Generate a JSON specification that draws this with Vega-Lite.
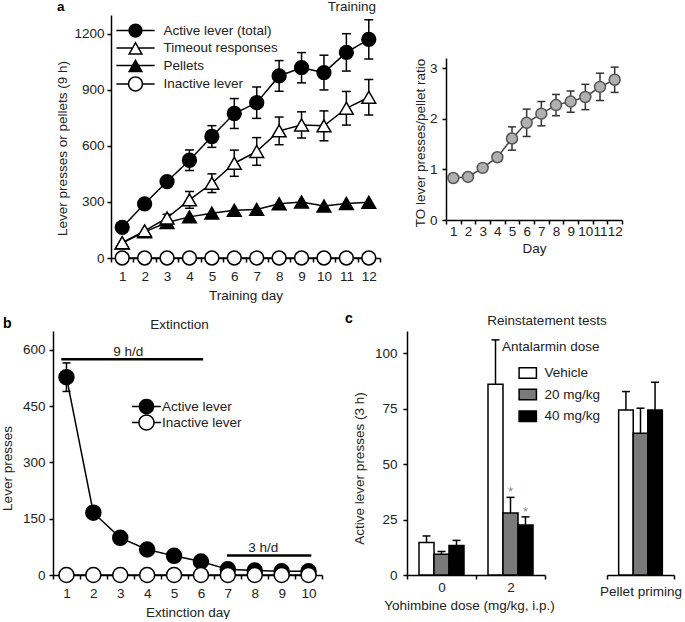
{
"$schema": "https://vega.github.io/schema/vega-lite/v6.json",
"background": "white",
"padding": {"top": -1, "left": 0, "right": 0, "bottom": 0},
"config": {
  "font": "Liberation Sans",
  "view": {"stroke": null},
  "axis": {"grid": false, "domain": true, "labelFontSize": 13.5, "titleFontSize": 13.5, "titleFontWeight": "normal", "labelColor": "#222", "titleColor": "#222", "domainColor": "#000", "tickColor": "#000", "domainWidth": 1.5, "tickWidth": 1.5, "tickSize": 4},
  "legend": {"labelFontSize": 13.5, "titleFontSize": 13.5, "titleFontWeight": "normal", "labelColor": "#222", "titleColor": "#222", "padding": 0},
  "title": {"fontSize": 13.5, "fontWeight": "normal", "color": "#222", "frame": "group", "baseline": "alphabetic"}
},
"datasets": {
  "trainA": [
    {"day": 1, "series": "Pellets", "mean": 80, "sem": 0},
    {"day": 2, "series": "Pellets", "mean": 140, "sem": 0},
    {"day": 3, "series": "Pellets", "mean": 190, "sem": 0},
    {"day": 4, "series": "Pellets", "mean": 220, "sem": 0},
    {"day": 5, "series": "Pellets", "mean": 240, "sem": 0},
    {"day": 6, "series": "Pellets", "mean": 255, "sem": 0},
    {"day": 7, "series": "Pellets", "mean": 260, "sem": 0},
    {"day": 8, "series": "Pellets", "mean": 290, "sem": 0},
    {"day": 9, "series": "Pellets", "mean": 300, "sem": 0},
    {"day": 10, "series": "Pellets", "mean": 278, "sem": 0},
    {"day": 11, "series": "Pellets", "mean": 292, "sem": 0},
    {"day": 12, "series": "Pellets", "mean": 298, "sem": 0},
    {"day": 1, "series": "Timeout responses", "mean": 82, "sem": 0},
    {"day": 2, "series": "Timeout responses", "mean": 145, "sem": 0},
    {"day": 3, "series": "Timeout responses", "mean": 214, "sem": 20},
    {"day": 4, "series": "Timeout responses", "mean": 311, "sem": 45},
    {"day": 5, "series": "Timeout responses", "mean": 400, "sem": 50},
    {"day": 6, "series": "Timeout responses", "mean": 507, "sem": 70},
    {"day": 7, "series": "Timeout responses", "mean": 570, "sem": 74},
    {"day": 8, "series": "Timeout responses", "mean": 680, "sem": 74},
    {"day": 9, "series": "Timeout responses", "mean": 712, "sem": 70},
    {"day": 10, "series": "Timeout responses", "mean": 707, "sem": 80},
    {"day": 11, "series": "Timeout responses", "mean": 801, "sem": 90},
    {"day": 12, "series": "Timeout responses", "mean": 860, "sem": 95},
    {"day": 1, "series": "Active lever (total)", "mean": 164, "sem": 20},
    {"day": 2, "series": "Active lever (total)", "mean": 290, "sem": 15},
    {"day": 3, "series": "Active lever (total)", "mean": 409, "sem": 22},
    {"day": 4, "series": "Active lever (total)", "mean": 523, "sem": 55},
    {"day": 5, "series": "Active lever (total)", "mean": 650, "sem": 58},
    {"day": 6, "series": "Active lever (total)", "mean": 773, "sem": 80},
    {"day": 7, "series": "Active lever (total)", "mean": 831, "sem": 84},
    {"day": 8, "series": "Active lever (total)", "mean": 974, "sem": 82},
    {"day": 9, "series": "Active lever (total)", "mean": 1018, "sem": 81},
    {"day": 10, "series": "Active lever (total)", "mean": 992, "sem": 93},
    {"day": 11, "series": "Active lever (total)", "mean": 1100, "sem": 100},
    {"day": 12, "series": "Active lever (total)", "mean": 1170, "sem": 105},
    {"day": 1, "series": "Inactive lever", "mean": 0, "sem": 0},
    {"day": 2, "series": "Inactive lever", "mean": 0, "sem": 0},
    {"day": 3, "series": "Inactive lever", "mean": 0, "sem": 0},
    {"day": 4, "series": "Inactive lever", "mean": 0, "sem": 0},
    {"day": 5, "series": "Inactive lever", "mean": 0, "sem": 0},
    {"day": 6, "series": "Inactive lever", "mean": 0, "sem": 0},
    {"day": 7, "series": "Inactive lever", "mean": 0, "sem": 0},
    {"day": 8, "series": "Inactive lever", "mean": 0, "sem": 0},
    {"day": 9, "series": "Inactive lever", "mean": 0, "sem": 0},
    {"day": 10, "series": "Inactive lever", "mean": 0, "sem": 0},
    {"day": 11, "series": "Inactive lever", "mean": 0, "sem": 0},
    {"day": 12, "series": "Inactive lever", "mean": 0, "sem": 0}
  ],
  "ratio": [
    {"day": 1, "mean": 0.83, "sem": 0.04},
    {"day": 2, "mean": 0.85, "sem": 0.04},
    {"day": 3, "mean": 1.03, "sem": 0.05},
    {"day": 4, "mean": 1.24, "sem": 0.08},
    {"day": 5, "mean": 1.61, "sem": 0.23},
    {"day": 6, "mean": 1.92, "sem": 0.27},
    {"day": 7, "mean": 2.1, "sem": 0.24},
    {"day": 8, "mean": 2.27, "sem": 0.21},
    {"day": 9, "mean": 2.34, "sem": 0.21},
    {"day": 10, "mean": 2.43, "sem": 0.25},
    {"day": 11, "mean": 2.63, "sem": 0.27},
    {"day": 12, "mean": 2.77, "sem": 0.25}
  ],
  "extB": [
    {"day": 1, "series": "Active lever", "mean": 527, "sem": 38},
    {"day": 2, "series": "Active lever", "mean": 166, "sem": 0},
    {"day": 3, "series": "Active lever", "mean": 99, "sem": 0},
    {"day": 4, "series": "Active lever", "mean": 68, "sem": 0},
    {"day": 5, "series": "Active lever", "mean": 51, "sem": 0},
    {"day": 6, "series": "Active lever", "mean": 36, "sem": 0},
    {"day": 7, "series": "Active lever", "mean": 15, "sem": 0},
    {"day": 8, "series": "Active lever", "mean": 12, "sem": 0},
    {"day": 9, "series": "Active lever", "mean": 10, "sem": 0},
    {"day": 10, "series": "Active lever", "mean": 10, "sem": 0},
    {"day": 1, "series": "Inactive lever", "mean": 0, "sem": 0},
    {"day": 2, "series": "Inactive lever", "mean": 0, "sem": 0},
    {"day": 3, "series": "Inactive lever", "mean": 0, "sem": 0},
    {"day": 4, "series": "Inactive lever", "mean": 0, "sem": 0},
    {"day": 5, "series": "Inactive lever", "mean": 0, "sem": 0},
    {"day": 6, "series": "Inactive lever", "mean": 0, "sem": 0},
    {"day": 7, "series": "Inactive lever", "mean": 0, "sem": 0},
    {"day": 8, "series": "Inactive lever", "mean": 0, "sem": 0},
    {"day": 9, "series": "Inactive lever", "mean": 0, "sem": 0},
    {"day": 10, "series": "Inactive lever", "mean": 0, "sem": 0}
  ],
  "extAnn": [
    {"label": "9 h/d", "start": 0.74, "end": 6.05, "level": 575, "mid": 3.25},
    {"label": "3 h/d", "start": 6.94, "end": 10.1, "level": 52, "mid": 8.3}
  ],
  "reinst": [
    {"yoh": "0", "dose": "Vehicle", "value": 14.6, "hi": 17.6, "sig": ""},
    {"yoh": "0", "dose": "20 mg/kg", "value": 9.3, "hi": 10.6, "sig": ""},
    {"yoh": "0", "dose": "40 mg/kg", "value": 13.3, "hi": 15.6, "sig": ""},
    {"yoh": "2", "dose": "Vehicle", "value": 86, "hi": 106, "sig": ""},
    {"yoh": "2", "dose": "20 mg/kg", "value": 27.9, "hi": 35, "sig": "*"},
    {"yoh": "2", "dose": "40 mg/kg", "value": 22.5, "hi": 26.2, "sig": "*"},
    {"yoh": "Pellet priming", "dose": "Vehicle", "value": 74.4, "hi": 82.7, "sig": ""},
    {"yoh": "Pellet priming", "dose": "20 mg/kg", "value": 63.9, "hi": 75.2, "sig": ""},
    {"yoh": "Pellet priming", "dose": "40 mg/kg", "value": 74.4, "hi": 86.9, "sig": ""}
  ]
},
"vconcat": [
  {
    "hconcat": [
      {"width": 111, "height": 243, "title": {"text": "a", "anchor": "start", "dx": 57, "offset": 1.5, "fontWeight": "bold", "fontSize": 13.5, "color": "#000"}, "data": {"values": []}, "mark": "point"},
      {
        "width": 269, "height": 243,
        "title": {"text": "Training", "anchor": "end", "offset": 2, "dx": -4},
        "data": {"name": "trainA"},
        "encoding": {
          "x": {"field": "day", "type": "ordinal", "scale": {"type": "band", "paddingInner": 0, "paddingOuter": 0}, "axis": {"title": "Training day", "labelAngle": 0, "tickBand": "extent", "labelPadding": 7, "titleY": 37, "titleBaseline": "middle"}},
          "y": {"field": "mean", "type": "quantitative", "scale": {"domain": [0, 1300], "nice": false}, "axis": {"values": [0, 300, 600, 900, 1200], "format": "d", "domain": true, "title": "Lever presses or pellets (9 h)", "labelPadding": 3, "titleX": -49, "titleY": 133, "titleBaseline": "middle", "titleAlign": "center"}}
        },
        "layer": [
          {"mark": {"type": "line", "color": "black", "strokeWidth": 1.5}, "encoding": {"detail": {"field": "series"}}},
          {"transform": [{"filter": "datum.sem > 0"}], "mark": {"type": "errorbar", "ticks": {"opacity": 1}, "size": 9, "thickness": 1.5, "color": "black", "opacity": 1}, "encoding": {"yError": {"field": "sem"}}},
          {"mark": {"type": "point", "filled": true, "stroke": "black", "strokeWidth": 1.5, "opacity": 1, "size": 190},
           "encoding": {
             "shape": {"field": "series", "type": "nominal", "scale": {"domain": ["Active lever (total)", "Timeout responses", "Pellets", "Inactive lever"], "range": ["circle", "triangle-up", "triangle-up", "circle"]}, "legend": null},
             "fill": {"field": "series", "type": "nominal", "scale": {"domain": ["Active lever (total)", "Timeout responses", "Pellets", "Inactive lever"], "range": ["black", "white", "black", "white"]}, "legend": null}
           }},
          {"transform": [{"filter": "false"}], "mark": {"type": "point", "filled": true, "fill": "black", "opacity": 1},
           "encoding": {
             "shape": {"field": "series", "type": "nominal", "scale": {"domain": ["Active lever (total)", "Timeout responses", "Pellets", "Inactive lever"], "range": [
               "M-0.95,0A0.95,0.95 0 1,1 0.95,0A0.95,0.95 0 1,1 -0.95,0ZM-2.55,-0.1H-0.9V0.1H-2.55ZM0.9,-0.1H2.55V0.1H0.9Z",
               "M0,-0.9L1.02,0.9L-1.02,0.9ZM0,-0.496L-0.676,0.698L0.676,0.698ZM-2.55,-0.1H-0.45V0.1H-2.55ZM0.45,-0.1H2.55V0.1H0.45Z",
               "M0,-0.9L1.02,0.9L-1.02,0.9ZM-2.55,-0.1H-0.4V0.1H-2.55ZM0.4,-0.1H2.55V0.1H0.4Z",
               "M-1.02,0A1.02,1.02 0 1,1 1.02,0A1.02,1.02 0 1,1 -1.02,0ZM-0.82,0A0.82,0.82 0 1,0 0.82,0A0.82,0.82 0 1,0 -0.82,0ZM-2.55,-0.1H-0.98V0.1H-2.55ZM0.98,-0.1H2.55V0.1H0.98Z"
             ]},
               "legend": {"title": null, "orient": "none", "legendX": 17, "legendY": 8, "symbolSize": 225, "symbolFillColor": "black", "symbolStrokeWidth": 0, "labelOffset": 20.5, "rowPadding": 2.5}}
           }}
        ],
        "resolve": {"scale": {"shape": "independent", "fill": "independent"}}
      },
      {"width": 66, "height": 243, "data": {"values": []}, "mark": "point"},
      {
        "width": 176, "height": 205,
        "data": {"name": "ratio"},
        "encoding": {
          "x": {"field": "day", "type": "ordinal", "scale": {"type": "band", "paddingInner": 0, "paddingOuter": 0}, "axis": {"title": "Day", "labelAngle": 0, "tickBand": "extent", "labelPadding": 0, "labelOverlap": false, "titleY": 28, "titleBaseline": "middle"}},
          "y": {"field": "mean", "type": "quantitative", "scale": {"domain": [0, 3.2], "range": [205, 43], "nice": false}, "axis": {"values": [0, 1, 2, 3], "title": "TO lever presses/pellet ratio", "labelPadding": 5, "titleX": -26, "titleY": 127.5, "titleBaseline": "middle", "titleAlign": "center"}}
        },
        "layer": [
          {"mark": {"type": "line", "color": "#444", "strokeWidth": 1.5}},
          {"mark": {"type": "errorbar", "ticks": {"opacity": 1}, "size": 8, "thickness": 1.5, "color": "#333", "opacity": 1}, "encoding": {"yError": {"field": "sem"}}},
          {"mark": {"type": "point", "filled": true, "fill": "#b0b0b0", "stroke": "#555", "strokeWidth": 1.5, "opacity": 1, "size": 120}}
        ]
      }
    ],
    "spacing": 0,
    "bounds": "flush",
    "resolve": {"scale": {"shape": "independent", "fill": "independent", "xOffset": "independent"}}
  },
  {
    "hconcat": [
      {"width": 53, "height": 244, "title": {"text": "b", "anchor": "start", "dx": 3, "offset": 0, "fontWeight": "bold", "fontSize": 14, "color": "#000"}, "data": {"values": []}, "mark": "point"},
      {
        "width": 269, "height": 244,
        "title": {"text": "Extinction", "anchor": "middle", "dx": -8, "offset": 0},
        "layer": [
          {
            "data": {"name": "extB"},
            "encoding": {
              "x": {"field": "day", "type": "ordinal", "scale": {"type": "band", "paddingInner": 0, "paddingOuter": 0}, "axis": {"title": "Extinction day", "labelAngle": 0, "tickBand": "extent", "labelPadding": 7, "titleY": 37, "titleBaseline": "middle"}},
              "y": {"field": "mean", "type": "quantitative", "scale": {"domain": [0, 650], "nice": false}, "axis": {"values": [0, 150, 300, 450, 600], "title": "Lever presses", "labelPadding": 4, "titleX": -46, "titleY": 137, "titleBaseline": "middle", "titleAlign": "center"}}
            },
            "layer": [
              {"mark": {"type": "line", "color": "black", "strokeWidth": 1.5}, "encoding": {"detail": {"field": "series"}}},
              {"transform": [{"filter": "datum.sem > 0"}], "mark": {"type": "errorbar", "ticks": {"opacity": 1}, "size": 8, "thickness": 1.5, "color": "black", "opacity": 1}, "encoding": {"yError": {"field": "sem"}}},
              {"mark": {"type": "point", "filled": true, "shape": "circle", "stroke": "black", "strokeWidth": 1.5, "opacity": 1, "size": 225},
               "encoding": {"fill": {"field": "series", "type": "nominal", "scale": {"domain": ["Active lever", "Inactive lever"], "range": ["black", "white"]}, "legend": null}}},
              {"transform": [{"filter": "false"}], "mark": {"type": "point", "filled": true, "fill": "black", "opacity": 1},
               "encoding": {
                 "shape": {"field": "series", "type": "nominal", "scale": {"domain": ["Active lever", "Inactive lever"], "range": [
                   "M-1.05,0A1.05,1.05 0 1,1 1.05,0A1.05,1.05 0 1,1 -1.05,0ZM-1.95,-0.1H-1V0.1H-1.95ZM1,-0.1H1.95V0.1H1Z",
                   "M-1.1,0A1.1,1.1 0 1,1 1.1,0A1.1,1.1 0 1,1 -1.1,0ZM-0.9,0A0.9,0.9 0 1,0 0.9,0A0.9,0.9 0 1,0 -0.9,0ZM-1.95,-0.1H-1.05V0.1H-1.95ZM1.05,-0.1H1.95V0.1H1.05Z"
                 ]},
                   "legend": {"title": null, "orient": "none", "legendX": 86, "legendY": 68, "symbolSize": 225, "symbolFillColor": "black", "symbolStrokeWidth": 0, "labelOffset": 8, "rowPadding": -8.7}}
               }}
            ],
            "resolve": {"scale": {"shape": "independent", "fill": "independent"}}
          },
          {
            "data": {"name": "extAnn"},
            "encoding": {"y": {"field": "level", "type": "quantitative", "scale": {"domain": [0, 650], "nice": false}, "axis": {"values": [0, 150, 300, 450, 600], "title": "Lever presses", "labelPadding": 4, "titleX": -46, "titleY": 137, "titleBaseline": "middle", "titleAlign": "center"}}},
            "layer": [
              {"mark": {"type": "rule", "color": "black", "strokeWidth": 2.5}, "encoding": {"x": {"field": "start", "type": "quantitative", "scale": {"domain": [0.43, 10.5], "nice": false, "zero": false}, "axis": null}, "x2": {"field": "end"}}},
              {"mark": {"type": "text", "baseline": "alphabetic", "dy": -3.5, "fontSize": 13.5, "color": "#222"}, "encoding": {"x": {"field": "mid", "type": "quantitative", "scale": {"domain": [0.43, 10.5], "nice": false, "zero": false}, "axis": null}, "text": {"field": "label"}}}
            ]
          }
        ],
        "resolve": {"scale": {"x": "independent"}}
      },
      {"width": 85, "height": 244, "title": {"text": "c", "anchor": "start", "dx": 23, "offset": 5, "fontWeight": "bold", "fontSize": 14, "color": "#000"}, "data": {"values": []}, "mark": "point"},
      {
        "width": 138, "height": 244,
        "data": {"name": "reinst"},
        "transform": [{"filter": "datum.yoh != 'Pellet priming'"}],
        "encoding": {
          "x": {"field": "yoh", "type": "nominal", "scale": {"type": "band", "paddingInner": 0, "paddingOuter": 0}, "axis": {"title": "Yohimbine dose (mg/kg, i.p.)", "labelAngle": 0, "tickBand": "extent", "labelPadding": 1, "titleX": 62, "titleY": 30.5, "titleBaseline": "middle"}},
          "xOffset": {"field": "dose", "type": "nominal", "scale": {"domain": ["Vehicle", "20 mg/kg", "40 mg/kg"], "paddingInner": 0, "paddingOuter": 0.8}},
          "y": {"field": "value", "type": "quantitative", "stack": null, "scale": {"domain": [0, 110], "nice": false}, "axis": {"values": [0, 25, 50, 75, 100], "title": "Active lever presses (3 h)", "labelPadding": 6, "titleX": -48, "titleY": 137, "titleBaseline": "middle", "titleAlign": "center"}}
        },
        "layer": [
          {"mark": {"type": "rule", "color": "black", "strokeWidth": 1.5}, "encoding": {"y2": {"field": "hi"}}},
          {"mark": {"type": "bar", "stroke": "black", "strokeWidth": 1.5},
           "encoding": {"fill": {"field": "dose", "type": "nominal", "scale": {"domain": ["Vehicle", "20 mg/kg", "40 mg/kg"], "range": ["white", "#7a7a7a", "black"]},
             "legend": {"title": "Antalarmin dose", "orient": "none", "legendX": 95, "legendY": 9, "symbolType": "M-1.65,-1H1.65V1H-1.65Z", "symbolSize": 110, "symbolStrokeColor": "black", "symbolStrokeWidth": 1.5, "symbolOffset": 19, "labelOffset": 10, "rowPadding": 4.6, "titlePadding": 12.7}}}},
          {"mark": {"type": "tick", "color": "black", "thickness": 1.5, "size": 8, "opacity": 1}, "encoding": {"y": {"field": "hi", "type": "quantitative", "stack": null, "scale": {"domain": [0, 110], "nice": false}, "axis": {"values": [0, 25, 50, 75, 100], "title": "Active lever presses (3 h)", "labelPadding": 6, "titleX": -48, "titleY": 137, "titleBaseline": "middle", "titleAlign": "center"}}}},
          {"mark": {"type": "text", "baseline": "alphabetic", "dy": -1, "fontSize": 13, "color": "#888"}, "encoding": {"y": {"field": "hi", "type": "quantitative", "stack": null, "scale": {"domain": [0, 110], "nice": false}, "axis": {"values": [0, 25, 50, 75, 100], "title": "Active lever presses (3 h)", "labelPadding": 6, "titleX": -48, "titleY": 137, "titleBaseline": "middle", "titleAlign": "center"}}, "text": {"field": "sig"}}}
        ]
      },
      {"width": 62, "height": 244, "title": {"text": "Reinstatement tests", "anchor": "middle", "dx": -29, "offset": 4}, "data": {"values": []}, "mark": "point"},
      {
        "width": 67, "height": 244,
        "data": {"name": "reinst"},
        "transform": [{"filter": "datum.yoh == 'Pellet priming'"}],
        "encoding": {
          "x": {"field": "yoh", "type": "nominal", "scale": {"type": "band", "paddingInner": 0, "paddingOuter": 0}, "axis": {"title": null, "labelAngle": 0, "tickBand": "extent", "labelPadding": 5}},
          "xOffset": {"field": "dose", "type": "nominal", "scale": {"domain": ["Vehicle", "20 mg/kg", "40 mg/kg"], "paddingInner": 0, "paddingOuter": 0.8}},
          "y": {"field": "value", "type": "quantitative", "stack": null, "scale": {"domain": [0, 110], "nice": false}, "axis": null}
        },
        "layer": [
          {"mark": {"type": "rule", "color": "black", "strokeWidth": 1.5}, "encoding": {"y2": {"field": "hi"}}},
          {"mark": {"type": "bar", "stroke": "black", "strokeWidth": 1.5},
           "encoding": {"fill": {"field": "dose", "type": "nominal", "scale": {"domain": ["Vehicle", "20 mg/kg", "40 mg/kg"], "range": ["white", "#7a7a7a", "black"]}, "legend": null}}},
          {"mark": {"type": "tick", "color": "black", "thickness": 1.5, "size": 8, "opacity": 1}, "encoding": {"y": {"field": "hi", "type": "quantitative", "stack": null, "scale": {"domain": [0, 110], "nice": false}, "axis": null}}}
        ]
      }
    ],
    "spacing": 0,
    "bounds": "flush",
    "resolve": {"scale": {"shape": "independent", "fill": "independent", "xOffset": "independent"}}
  }
],
"spacing": 10,
"resolve": {"scale": {"shape": "independent", "fill": "independent", "xOffset": "independent"}}
}
